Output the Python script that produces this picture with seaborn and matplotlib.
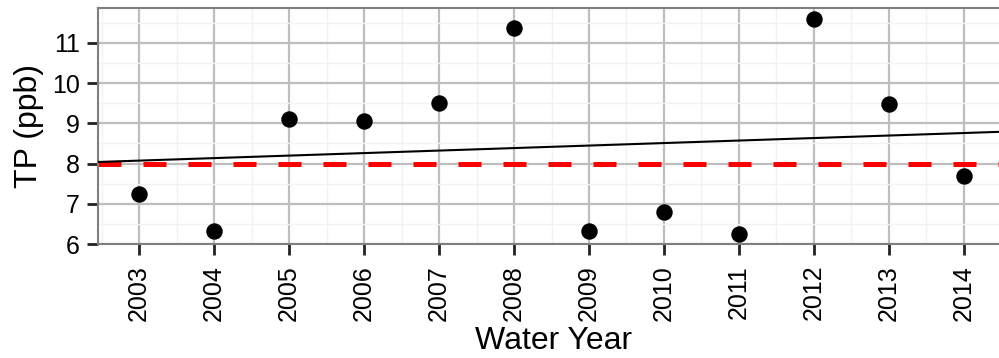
import matplotlib
matplotlib.use("Agg")
import matplotlib.pyplot as plt
import seaborn as sns
import pandas as pd
import numpy as np

years = [2003, 2004, 2005, 2006, 2007, 2008, 2009, 2010, 2011, 2012, 2013, 2014]
tp_ppb = [7.24, 6.32, 9.11, 9.06, 9.51, 11.37, 6.32, 6.80, 6.25, 11.60, 9.48, 7.69]
trend_at_2003 = 8.074
trend_slope = 0.0624
criterion = 8.0
y_ticks = [6, 7, 8, 9, 10, 11]

sns.set_theme(style="white")
plt.rcParams['font.family'] = ['Liberation Sans', 'DejaVu Sans']

W, H = 999, 358
fig = plt.figure(figsize=(W / 100, H / 100), dpi=100)
left, right, top, bottom = 98, 1010, 8, 244
ax = fig.add_axes([left / W, 1 - bottom / H, (right - left) / W, (bottom - top) / H])

df = pd.DataFrame({"Water Year": years, "TP (ppb)": tp_ppb})

ax.set_xlim(2002.453, 2014.467 + (right - 999) / 75)
ax.set_ylim(6, 11.87)

# grid
ax.set_xticks(years)
ax.set_xticks([y + 0.5 for y in [years[0] - 1] + years], minor=True)
ax.set_yticks(y_ticks)
ax.set_yticks([v + 0.5 for v in y_ticks], minor=True)
ax.grid(which="major", color="#BEBEBE", linewidth=1.6, zorder=0)
ax.grid(which="minor", color="#F2F2F2", linewidth=1.0, zorder=0)
ax.set_axisbelow(True)

ax.axhline(criterion, color="#FF0000", linewidth=3.6, linestyle=(0, (4.6, 4.4)),
           dash_capstyle="butt", zorder=2)
ax.axline((2003, trend_at_2003), slope=trend_slope, color="black", linewidth=1.5, zorder=3)

sns.scatterplot(data=df, x="Water Year", y="TP (ppb)", ax=ax, color="black",
                s=140, edgecolor="black", linewidth=0, zorder=4)

ax.set_xticklabels([str(y) for y in years], rotation=90)
ax.tick_params(axis="both", which="major", labelsize=18, labelcolor="black",
               color="#222222", length=8, width=2.0, pad=5,
               bottom=True, left=True)
ax.tick_params(axis="y", pad=5)
ax.tick_params(axis="x", pad=7)
ax.tick_params(which="minor", length=0, bottom=False, left=False)
ax.set_xlabel("Water Year", fontsize=23, labelpad=4, color="black")
ax.set_ylabel("TP (ppb)", fontsize=23, labelpad=6, color="black")

for s in ["top", "left", "bottom"]:
    ax.spines[s].set_color("#7F7F7F")
    ax.spines[s].set_linewidth(1.5)
ax.spines["right"].set_visible(False)

fig.savefig("out.png", dpi=100)
